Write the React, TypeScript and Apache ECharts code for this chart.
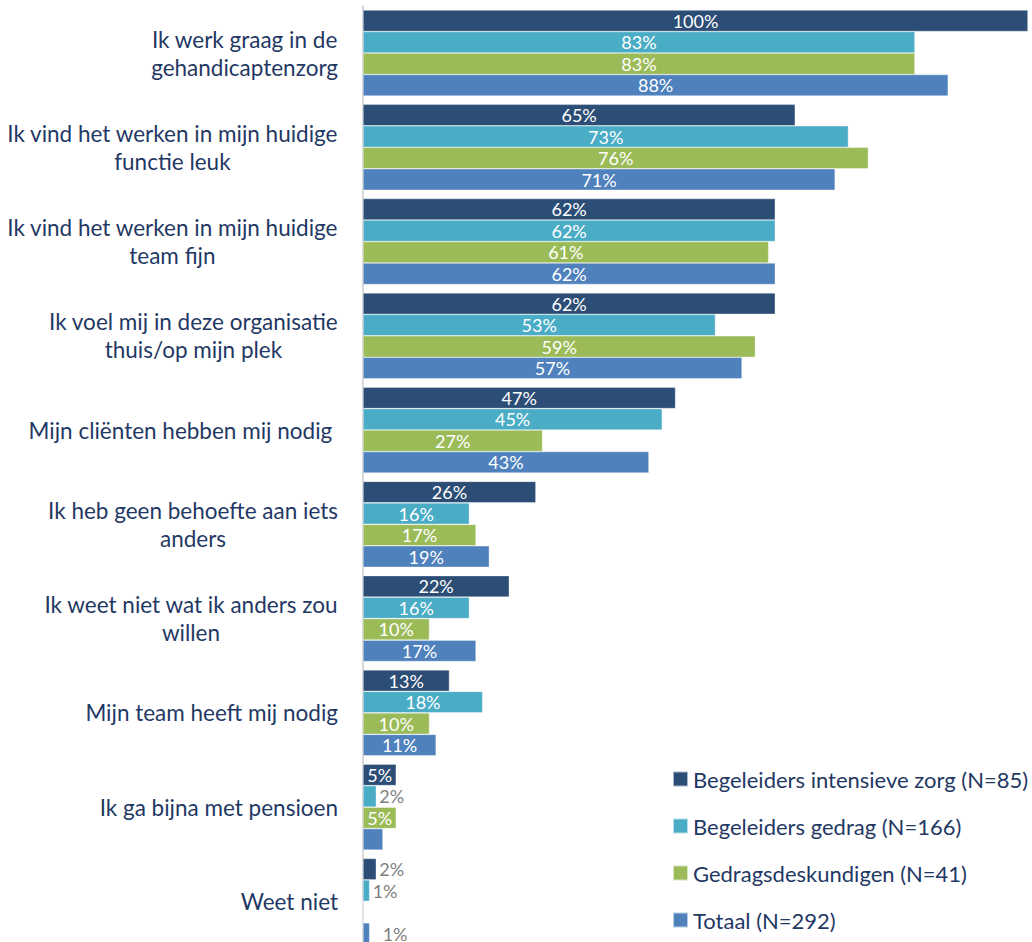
import React, { useEffect, useRef } from "react";
import * as echarts from "echarts";

const categories = [
  "Ik werk graag in de\ngehandicaptenzorg",
  "Ik vind het werken in mijn huidige\nfunctie leuk",
  "Ik vind het werken in mijn huidige\nteam fijn",
  "Ik voel mij in deze organisatie\nthuis/op mijn plek",
  "Mijn cliënten hebben mij nodig ",
  "Ik heb geen behoefte aan iets\nanders",
  "Ik weet niet wat ik anders zou\nwillen",
  "Mijn team heeft mij nodig",
  "Ik ga bijna met pensioen",
  "Weet niet",
];

const seriesNames = [
  "Begeleiders intensieve zorg (N=85)",
  "Begeleiders gedrag (N=166)",
  "Gedragsdeskundigen (N=41)",
  "Totaal (N=292)",
];

const intensieveZorg = [100, 65, 62, 62, 47, 26, 22, 13, 5, 2];
const gedrag = [83, 73, 62, 53, 45, 16, 16, 18, 2, 1];
const deskundigen = [83, 76, 61, 59, 27, 17, 10, 10, 5, 0];
const totaal = [88, 71, 62, 57, 43, 19, 17, 11, 3, 1];

const colors = ["#2C4D75", "#4BACC6", "#9BBB59", "#4F81BD"];
// [seriesIndex, categoryIndex] of labels not shown in the reference
const hiddenLabels = [[3, 8]];

const FONT = "Lato, 'Open Sans', sans-serif";

export default function App() {
  const ref = useRef<HTMLDivElement>(null);
  useEffect(() => {
    if (!ref.current) return;
    const chart = echarts.init(ref.current, null, { renderer: "svg" });
    const all = [intensieveZorg, gedrag, deskundigen, totaal];
    const series = all.map((vals, si) => ({
      name: seriesNames[si],
      type: "bar",
      barGap: "0%",
      barCategoryGap: "8.8%",
      itemStyle: { color: colors[si], borderColor: "rgba(255,255,255,0.6)", borderWidth: 0.6 },
      label: {
        show: true,
        position: "inside",
        color: "#ffffff",
        fontSize: 18,
        fontFamily: FONT,
        formatter: "{c}%",
      },
      data: vals.map((v, ci) => {
        const hidden = v === 0 || hiddenLabels.some(([s, c]) => s === si && c === ci);
        if (hidden) return { value: v, label: { show: false } };
        if (v < 4)
          return {
            value: v,
            label: {
              show: true,
              position: "right",
              color: "#7F7F7F",
              distance: si === 3 ? 13 : 3,
            },
          };
        return v;
      }),
    }));
    chart.setOption({
      animation: false,
      textStyle: { fontFamily: FONT },
      grid: {
        left: 363,
        right: 4,
        top: 5.9,
        height: 942.6,
        outerBoundsMode: "none",
        containLabel: false,
      },
      legend: {
        orient: "vertical",
        left: 672,
        top: 768,
        padding: 0,
        icon: "rect",
        itemWidth: 15,
        itemHeight: 15,
        itemGap: 25,
        textStyle: { color: "#1F3864", fontSize: 22, fontFamily: FONT },
        data: seriesNames,
      },
      xAxis: {
        type: "value",
        min: 0,
        max: 100,
        show: false,
      },
      yAxis: {
        type: "category",
        inverse: true,
        data: categories,
        axisLine: { show: true, lineStyle: { color: "#D9D9D9", width: 2 } },
        axisTick: { show: false },
        axisLabel: {
          margin: 25,
          align: "right",
          lineHeight: 28,
          formatter: (val: string) =>
            val
              .split("\n")
              .map((l) => `{c|${l}}`)
              .join("\n"),
          rich: {
            c: {
              align: "center",
              color: "#1F3864",
              fontSize: 22.5,
              lineHeight: 28,
              fontFamily: FONT,
            },
          },
        },
      },
      series,
    });
    return () => chart.dispose();
  }, []);
  return (
    <div
      ref={ref}
      style={{ position: "absolute", left: 0, top: 0, width: 1032, height: 942 }}
    />
  );
}
